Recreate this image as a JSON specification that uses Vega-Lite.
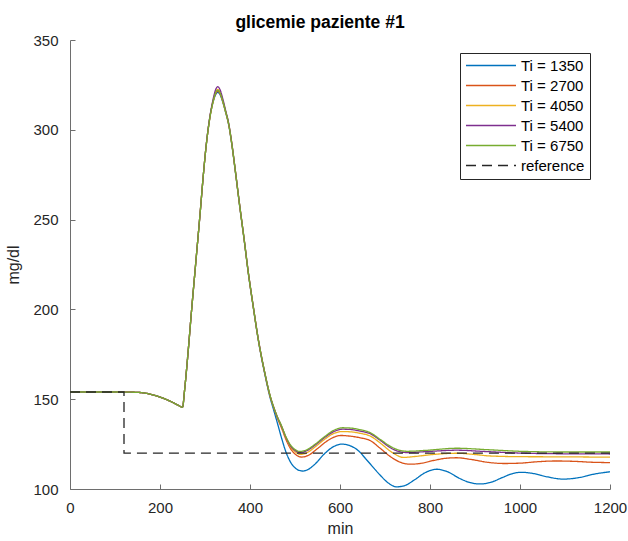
{
  "$schema": "https://vega.github.io/schema/vega-lite/v6.json",
  "width": 540,
  "height": 449,
  "autosize": {"type": "none"},
  "padding": {"left": 70, "top": 40, "right": 18, "bottom": 52},
  "background": "white",
  "title": {"text": "glicemie paziente #1", "font": "Liberation Sans", "fontSize": 17.5, "fontWeight": "bold", "color": "#000000", "offset": 2, "dx": -20},
  "config": {
    "view": {"stroke": null},
    "axis": {"domainColor": "#6e6e6e", "tickColor": "#6e6e6e", "tickSize": -5, "labelFont": "Liberation Sans", "labelFontSize": 15, "labelColor": "#262626", "titleFont": "Liberation Sans", "titleFontSize": 16, "titleFontWeight": "normal", "titleColor": "#262626", "grid": false, "labelFlush": false, "labelOverlap": false, "labelBound": false, "format": "d"}
  },
  "datasets": {
    "sim": [
      {"s":"Ti = 1350","t":0,"g":154},{"s":"Ti = 1350","t":100,"g":154},{"s":"Ti = 1350","t":150,"g":153.8},{"s":"Ti = 1350","t":175,"g":153},{"s":"Ti = 1350","t":200,"g":151.2},{"s":"Ti = 1350","t":225,"g":148.6},{"s":"Ti = 1350","t":240,"g":146.7},{"s":"Ti = 1350","t":250,"g":145.5},{"s":"Ti = 1350","t":255,"g":156},{"s":"Ti = 1350","t":262,"g":175},{"s":"Ti = 1350","t":270,"g":199},{"s":"Ti = 1350","t":280,"g":227.5},{"s":"Ti = 1350","t":290,"g":256},{"s":"Ti = 1350","t":296,"g":274},{"s":"Ti = 1350","t":303,"g":292},{"s":"Ti = 1350","t":310,"g":305.5},{"s":"Ti = 1350","t":318,"g":315.5},{"s":"Ti = 1350","t":324,"g":319.8},{"s":"Ti = 1350","t":328,"g":320.8},{"s":"Ti = 1350","t":333,"g":319.8},{"s":"Ti = 1350","t":340,"g":315},{"s":"Ti = 1350","t":346,"g":309.5},{"s":"Ti = 1350","t":352,"g":303.5},{"s":"Ti = 1350","t":360,"g":291},{"s":"Ti = 1350","t":367,"g":277.5},{"s":"Ti = 1350","t":377,"g":257.5},{"s":"Ti = 1350","t":387,"g":238.5},{"s":"Ti = 1350","t":396,"g":220.5},{"s":"Ti = 1350","t":407,"g":201.5},{"s":"Ti = 1350","t":418,"g":183.5},{"s":"Ti = 1350","t":433,"g":163.8},{"s":"Ti = 1350","t":445,"g":150.5},{"s":"Ti = 1350","t":452,"g":144.5},{"s":"Ti = 1350","t":460,"g":137.5},{"s":"Ti = 1350","t":470,"g":128.5},{"s":"Ti = 1350","t":480,"g":120.5},{"s":"Ti = 1350","t":490,"g":115},{"s":"Ti = 1350","t":500,"g":111.8},{"s":"Ti = 1350","t":510,"g":110.3},{"s":"Ti = 1350","t":518,"g":110},{"s":"Ti = 1350","t":530,"g":111},{"s":"Ti = 1350","t":545,"g":114},{"s":"Ti = 1350","t":565,"g":119.5},{"s":"Ti = 1350","t":585,"g":123.5},{"s":"Ti = 1350","t":604,"g":125},{"s":"Ti = 1350","t":620,"g":124.3},{"s":"Ti = 1350","t":640,"g":121.5},{"s":"Ti = 1350","t":660,"g":116},{"s":"Ti = 1350","t":689,"g":107.8},{"s":"Ti = 1350","t":705,"g":103.8},{"s":"Ti = 1350","t":726,"g":101.2},{"s":"Ti = 1350","t":745,"g":102},{"s":"Ti = 1350","t":765,"g":105},{"s":"Ti = 1350","t":790,"g":109.2},{"s":"Ti = 1350","t":815,"g":111},{"s":"Ti = 1350","t":840,"g":109.5},{"s":"Ti = 1350","t":865,"g":106},{"s":"Ti = 1350","t":890,"g":103.5},{"s":"Ti = 1350","t":911,"g":102.8},{"s":"Ti = 1350","t":935,"g":103.7},{"s":"Ti = 1350","t":960,"g":106.3},{"s":"Ti = 1350","t":985,"g":108.7},{"s":"Ti = 1350","t":1004,"g":109.3},{"s":"Ti = 1350","t":1030,"g":108.6},{"s":"Ti = 1350","t":1060,"g":106.8},{"s":"Ti = 1350","t":1096,"g":105.5},{"s":"Ti = 1350","t":1130,"g":106.3},{"s":"Ti = 1350","t":1165,"g":108.3},{"s":"Ti = 1350","t":1200,"g":109.6},

      {"s":"Ti = 2700","t":0,"g":154},{"s":"Ti = 2700","t":100,"g":154},{"s":"Ti = 2700","t":150,"g":153.8},{"s":"Ti = 2700","t":175,"g":153},{"s":"Ti = 2700","t":200,"g":151.2},{"s":"Ti = 2700","t":225,"g":148.6},{"s":"Ti = 2700","t":240,"g":146.7},{"s":"Ti = 2700","t":250,"g":145.5},{"s":"Ti = 2700","t":255,"g":156},{"s":"Ti = 2700","t":262,"g":175},{"s":"Ti = 2700","t":270,"g":199},{"s":"Ti = 2700","t":280,"g":227.5},{"s":"Ti = 2700","t":290,"g":256},{"s":"Ti = 2700","t":296,"g":274},{"s":"Ti = 2700","t":303,"g":292},{"s":"Ti = 2700","t":310,"g":305.5},{"s":"Ti = 2700","t":318,"g":315.8},{"s":"Ti = 2700","t":324,"g":320.3},{"s":"Ti = 2700","t":328,"g":321.5},{"s":"Ti = 2700","t":333,"g":320.3},{"s":"Ti = 2700","t":340,"g":315.3},{"s":"Ti = 2700","t":346,"g":309.8},{"s":"Ti = 2700","t":352,"g":303.8},{"s":"Ti = 2700","t":360,"g":291.3},{"s":"Ti = 2700","t":367,"g":277.8},{"s":"Ti = 2700","t":377,"g":257.8},{"s":"Ti = 2700","t":387,"g":238.8},{"s":"Ti = 2700","t":396,"g":220.8},{"s":"Ti = 2700","t":407,"g":201.8},{"s":"Ti = 2700","t":418,"g":183.8},{"s":"Ti = 2700","t":433,"g":164.3},{"s":"Ti = 2700","t":445,"g":151.3},{"s":"Ti = 2700","t":452,"g":145.8},{"s":"Ti = 2700","t":460,"g":140},{"s":"Ti = 2700","t":470,"g":134},{"s":"Ti = 2700","t":480,"g":127.5},{"s":"Ti = 2700","t":490,"g":122.5},{"s":"Ti = 2700","t":500,"g":119.5},{"s":"Ti = 2700","t":515,"g":117.8},{"s":"Ti = 2700","t":530,"g":118.8},{"s":"Ti = 2700","t":550,"g":122.5},{"s":"Ti = 2700","t":570,"g":126.5},{"s":"Ti = 2700","t":590,"g":129.2},{"s":"Ti = 2700","t":603,"g":129.8},{"s":"Ti = 2700","t":620,"g":129.5},{"s":"Ti = 2700","t":645,"g":128.5},{"s":"Ti = 2700","t":667,"g":127},{"s":"Ti = 2700","t":690,"g":122.5},{"s":"Ti = 2700","t":715,"g":117.5},{"s":"Ti = 2700","t":735,"g":114.8},{"s":"Ti = 2700","t":756,"g":113.8},{"s":"Ti = 2700","t":780,"g":114.3},{"s":"Ti = 2700","t":810,"g":116},{"s":"Ti = 2700","t":835,"g":117.1},{"s":"Ti = 2700","t":859,"g":117.4},{"s":"Ti = 2700","t":890,"g":116.5},{"s":"Ti = 2700","t":930,"g":114.8},{"s":"Ti = 2700","t":965,"g":114.2},{"s":"Ti = 2700","t":1000,"g":114.4},{"s":"Ti = 2700","t":1040,"g":115.2},{"s":"Ti = 2700","t":1080,"g":115.6},{"s":"Ti = 2700","t":1120,"g":115.4},{"s":"Ti = 2700","t":1160,"g":114.9},{"s":"Ti = 2700","t":1200,"g":114.7},

      {"s":"Ti = 4050","t":0,"g":154},{"s":"Ti = 4050","t":100,"g":154},{"s":"Ti = 4050","t":150,"g":153.8},{"s":"Ti = 4050","t":175,"g":153},{"s":"Ti = 4050","t":200,"g":151.2},{"s":"Ti = 4050","t":225,"g":148.6},{"s":"Ti = 4050","t":240,"g":146.7},{"s":"Ti = 4050","t":250,"g":145.5},{"s":"Ti = 4050","t":255,"g":156},{"s":"Ti = 4050","t":262,"g":175},{"s":"Ti = 4050","t":270,"g":199},{"s":"Ti = 4050","t":280,"g":227.5},{"s":"Ti = 4050","t":290,"g":256},{"s":"Ti = 4050","t":296,"g":274},{"s":"Ti = 4050","t":303,"g":292},{"s":"Ti = 4050","t":310,"g":305.5},{"s":"Ti = 4050","t":318,"g":316},{"s":"Ti = 4050","t":324,"g":321.2},{"s":"Ti = 4050","t":328,"g":322.5},{"s":"Ti = 4050","t":333,"g":321.2},{"s":"Ti = 4050","t":340,"g":315.8},{"s":"Ti = 4050","t":346,"g":310},{"s":"Ti = 4050","t":352,"g":304},{"s":"Ti = 4050","t":360,"g":291.5},{"s":"Ti = 4050","t":367,"g":278},{"s":"Ti = 4050","t":377,"g":258},{"s":"Ti = 4050","t":387,"g":239},{"s":"Ti = 4050","t":396,"g":221},{"s":"Ti = 4050","t":407,"g":202},{"s":"Ti = 4050","t":418,"g":184},{"s":"Ti = 4050","t":433,"g":164.5},{"s":"Ti = 4050","t":445,"g":151.5},{"s":"Ti = 4050","t":452,"g":146},{"s":"Ti = 4050","t":460,"g":140.5},{"s":"Ti = 4050","t":470,"g":134.8},{"s":"Ti = 4050","t":480,"g":128.5},{"s":"Ti = 4050","t":490,"g":123.5},{"s":"Ti = 4050","t":500,"g":120.8},{"s":"Ti = 4050","t":512,"g":119.3},{"s":"Ti = 4050","t":525,"g":120},{"s":"Ti = 4050","t":545,"g":123.5},{"s":"Ti = 4050","t":565,"g":127.5},{"s":"Ti = 4050","t":585,"g":130.8},{"s":"Ti = 4050","t":605,"g":132},{"s":"Ti = 4050","t":625,"g":131.8},{"s":"Ti = 4050","t":645,"g":131},{"s":"Ti = 4050","t":667,"g":129.5},{"s":"Ti = 4050","t":690,"g":125.5},{"s":"Ti = 4050","t":715,"g":120.5},{"s":"Ti = 4050","t":741,"g":117.6},{"s":"Ti = 4050","t":770,"g":118.2},{"s":"Ti = 4050","t":810,"g":119.3},{"s":"Ti = 4050","t":860,"g":119.9},{"s":"Ti = 4050","t":900,"g":119.2},{"s":"Ti = 4050","t":933,"g":118.4},{"s":"Ti = 4050","t":1000,"g":118},{"s":"Ti = 4050","t":1100,"g":117.9},{"s":"Ti = 4050","t":1200,"g":117.7},

      {"s":"Ti = 5400","t":0,"g":154},{"s":"Ti = 5400","t":100,"g":154},{"s":"Ti = 5400","t":150,"g":153.8},{"s":"Ti = 5400","t":175,"g":153},{"s":"Ti = 5400","t":200,"g":151.2},{"s":"Ti = 5400","t":225,"g":148.6},{"s":"Ti = 5400","t":240,"g":146.7},{"s":"Ti = 5400","t":250,"g":145.5},{"s":"Ti = 5400","t":255,"g":156},{"s":"Ti = 5400","t":262,"g":175},{"s":"Ti = 5400","t":270,"g":199},{"s":"Ti = 5400","t":280,"g":227.5},{"s":"Ti = 5400","t":290,"g":256},{"s":"Ti = 5400","t":296,"g":274},{"s":"Ti = 5400","t":303,"g":292.3},{"s":"Ti = 5400","t":310,"g":306},{"s":"Ti = 5400","t":318,"g":317},{"s":"Ti = 5400","t":324,"g":322.6},{"s":"Ti = 5400","t":328,"g":324},{"s":"Ti = 5400","t":333,"g":322.6},{"s":"Ti = 5400","t":340,"g":316.8},{"s":"Ti = 5400","t":346,"g":310.6},{"s":"Ti = 5400","t":352,"g":304.4},{"s":"Ti = 5400","t":360,"g":291.8},{"s":"Ti = 5400","t":367,"g":278.2},{"s":"Ti = 5400","t":377,"g":258.2},{"s":"Ti = 5400","t":387,"g":239.2},{"s":"Ti = 5400","t":396,"g":221.2},{"s":"Ti = 5400","t":407,"g":202.2},{"s":"Ti = 5400","t":418,"g":184.2},{"s":"Ti = 5400","t":433,"g":164.6},{"s":"Ti = 5400","t":445,"g":151.6},{"s":"Ti = 5400","t":452,"g":146},{"s":"Ti = 5400","t":460,"g":140.6},{"s":"Ti = 5400","t":470,"g":135},{"s":"Ti = 5400","t":480,"g":128.8},{"s":"Ti = 5400","t":490,"g":124},{"s":"Ti = 5400","t":500,"g":121.5},{"s":"Ti = 5400","t":511,"g":120.4},{"s":"Ti = 5400","t":525,"g":121.2},{"s":"Ti = 5400","t":545,"g":124.5},{"s":"Ti = 5400","t":565,"g":128.5},{"s":"Ti = 5400","t":585,"g":131.8},{"s":"Ti = 5400","t":605,"g":133.3},{"s":"Ti = 5400","t":625,"g":133.1},{"s":"Ti = 5400","t":645,"g":132.2},{"s":"Ti = 5400","t":667,"g":130.8},{"s":"Ti = 5400","t":690,"g":127},{"s":"Ti = 5400","t":715,"g":122.5},{"s":"Ti = 5400","t":748,"g":120.3},{"s":"Ti = 5400","t":790,"g":120.8},{"s":"Ti = 5400","t":860,"g":121.6},{"s":"Ti = 5400","t":920,"g":120.9},{"s":"Ti = 5400","t":1000,"g":120},{"s":"Ti = 5400","t":1100,"g":119.6},{"s":"Ti = 5400","t":1200,"g":119.5},

      {"s":"Ti = 6750","t":0,"g":154},{"s":"Ti = 6750","t":100,"g":154},{"s":"Ti = 6750","t":150,"g":153.8},{"s":"Ti = 6750","t":175,"g":153},{"s":"Ti = 6750","t":200,"g":151.2},{"s":"Ti = 6750","t":225,"g":148.6},{"s":"Ti = 6750","t":240,"g":146.7},{"s":"Ti = 6750","t":250,"g":145.5},{"s":"Ti = 6750","t":255,"g":156},{"s":"Ti = 6750","t":262,"g":175},{"s":"Ti = 6750","t":270,"g":199},{"s":"Ti = 6750","t":280,"g":227.5},{"s":"Ti = 6750","t":290,"g":256},{"s":"Ti = 6750","t":296,"g":274},{"s":"Ti = 6750","t":303,"g":292},{"s":"Ti = 6750","t":310,"g":305.5},{"s":"Ti = 6750","t":318,"g":315.8},{"s":"Ti = 6750","t":324,"g":320.8},{"s":"Ti = 6750","t":328,"g":322},{"s":"Ti = 6750","t":333,"g":320.8},{"s":"Ti = 6750","t":340,"g":315.6},{"s":"Ti = 6750","t":346,"g":310},{"s":"Ti = 6750","t":352,"g":304},{"s":"Ti = 6750","t":360,"g":291.5},{"s":"Ti = 6750","t":367,"g":278},{"s":"Ti = 6750","t":377,"g":258},{"s":"Ti = 6750","t":387,"g":239},{"s":"Ti = 6750","t":396,"g":221},{"s":"Ti = 6750","t":407,"g":202},{"s":"Ti = 6750","t":418,"g":184},{"s":"Ti = 6750","t":433,"g":164.6},{"s":"Ti = 6750","t":445,"g":151.7},{"s":"Ti = 6750","t":452,"g":146},{"s":"Ti = 6750","t":460,"g":140.7},{"s":"Ti = 6750","t":470,"g":135.2},{"s":"Ti = 6750","t":480,"g":129},{"s":"Ti = 6750","t":490,"g":124.5},{"s":"Ti = 6750","t":500,"g":122},{"s":"Ti = 6750","t":511,"g":120.9},{"s":"Ti = 6750","t":525,"g":121.7},{"s":"Ti = 6750","t":545,"g":125},{"s":"Ti = 6750","t":565,"g":129},{"s":"Ti = 6750","t":585,"g":132.5},{"s":"Ti = 6750","t":605,"g":134.1},{"s":"Ti = 6750","t":625,"g":133.9},{"s":"Ti = 6750","t":645,"g":133},{"s":"Ti = 6750","t":667,"g":131.4},{"s":"Ti = 6750","t":690,"g":127.5},{"s":"Ti = 6750","t":715,"g":123.3},{"s":"Ti = 6750","t":748,"g":121},{"s":"Ti = 6750","t":790,"g":121.5},{"s":"Ti = 6750","t":860,"g":122.7},{"s":"Ti = 6750","t":920,"g":122},{"s":"Ti = 6750","t":1000,"g":121},{"s":"Ti = 6750","t":1100,"g":120.6},{"s":"Ti = 6750","t":1200,"g":120.6}
    ],
    "ref": [
      {"s":"reference","t":0,"g":154},{"s":"reference","t":120,"g":154},{"s":"reference","t":120,"g":120},{"s":"reference","t":1200,"g":120}
    ]
  },
  "encoding": {
    "x": {"field": "t", "type": "quantitative", "scale": {"domain": [0, 1200], "nice": false}, "axis": {"values": [0, 200, 400, 600, 800, 1000, 1200], "title": "min", "labelPadding": 16, "titlePadding": 5}},
    "y": {"field": "g", "type": "quantitative", "scale": {"domain": [100, 350], "nice": false, "zero": false}, "axis": {"values": [100, 150, 200, 250, 300, 350], "title": "mg/dl", "labelPadding": 17, "titlePadding": 11}},
    "color": {"field": "s", "type": "nominal", "scale": {"domain": ["Ti = 1350", "Ti = 2700", "Ti = 4050", "Ti = 5400", "Ti = 6750", "reference"], "range": ["#0072BD", "#D95319", "#EDB120", "#7E2F8E", "#77AC30", "#262626"]},
      "legend": {"title": null, "orient": "none", "legendX": 390, "legendY": 13, "strokeColor": "#262626", "fillColor": "white", "padding": 5, "symbolType": "stroke", "symbolSize": 2500, "symbolStrokeWidth": 1.3, "clipHeight": 15, "labelFont": "Liberation Sans", "labelFontSize": 15, "labelColor": "#000000", "labelOffset": 4, "rowPadding": 4}},
    "strokeDash": {"field": "s", "type": "nominal", "scale": {"domain": ["Ti = 1350", "Ti = 2700", "Ti = 4050", "Ti = 5400", "Ti = 6750", "reference"], "range": [[1, 0], [1, 0], [1, 0], [1, 0], [1, 0], [10, 6]]},
      "legend": {"title": null, "orient": "none", "legendX": 390, "legendY": 13, "strokeColor": "#262626", "fillColor": "white", "padding": 5, "symbolType": "stroke", "symbolSize": 2500, "symbolStrokeWidth": 1.3, "clipHeight": 15, "labelFont": "Liberation Sans", "labelFontSize": 15, "labelColor": "#000000", "labelOffset": 4, "rowPadding": 4}}
  },
  "layer": [
    {"data": {"name": "sim"}, "mark": {"type": "line", "interpolate": "monotone", "strokeWidth": 1.3}},
    {"data": {"name": "ref"}, "mark": {"type": "line", "interpolate": "linear", "strokeWidth": 1.3}}
  ]
}
